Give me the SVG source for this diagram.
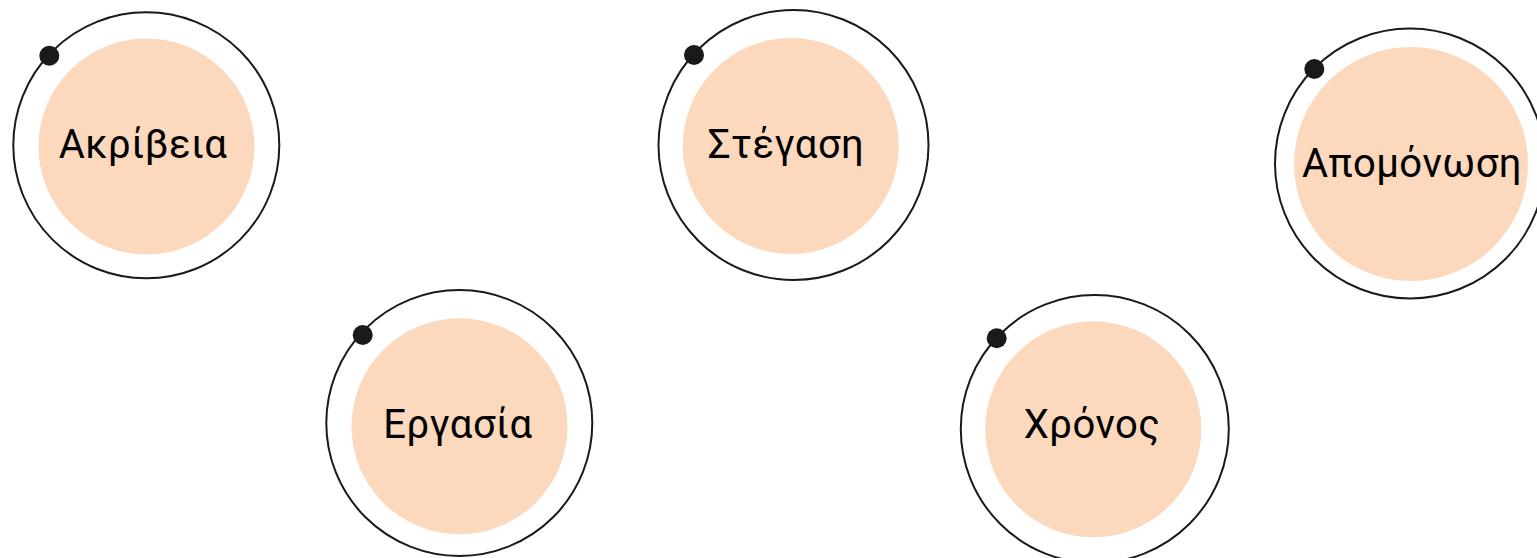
<svg xmlns="http://www.w3.org/2000/svg" width="1537" height="558" viewBox="0 0 1537 558">
<style>
.ring{fill:none;stroke:#1a1a1a;stroke-width:2}
.core{fill:#FCD8BC}
.dot{fill:#1a1a1a}
.lbl{font-family:Roboto,"Noto Sans",sans-serif;font-size:40px;letter-spacing:0.5px;fill:#000;text-anchor:middle}
</style>
<rect width="1537" height="558" fill="#fff"/>
<g id="node-akriveia">
<circle class="ring" cx="146.3" cy="145.3" r="133"/>
<circle class="core" cx="146.5" cy="146.5" r="108"/>
<circle class="dot" cx="49.3" cy="55.7" r="10"/>
<text class="lbl" x="143" y="158">Ακρίβεια</text>
</g>
<g id="node-stegasi">
<circle class="ring" cx="793.5" cy="145" r="135"/>
<circle class="core" cx="790.8" cy="146" r="108"/>
<circle class="dot" cx="694" cy="55" r="10"/>
<text class="lbl" x="786" y="158">Στέγαση</text>
</g>
<g id="node-apomonosi">
<circle class="ring" cx="1410" cy="163.5" r="135"/>
<circle class="core" cx="1411" cy="164" r="117"/>
<circle class="dot" cx="1314.3" cy="69" r="10"/>
<text class="lbl" x="1412" y="177">Απομόνωση</text>
</g>
<g id="node-ergasia">
<circle class="ring" cx="459.3" cy="423" r="133"/>
<circle class="core" cx="459.5" cy="426.3" r="108"/>
<circle class="dot" cx="362.7" cy="335" r="10"/>
<text class="lbl" x="458" y="438">Εργασία</text>
</g>
<g id="node-chronos">
<circle class="ring" cx="1094.8" cy="429" r="134"/>
<circle class="core" cx="1093.3" cy="429.3" r="108"/>
<circle class="dot" cx="996.7" cy="338.3" r="10"/>
<text class="lbl" x="1092" y="438">Χρόνος</text>
</g>
<g id="connectors"></g>
</svg>
